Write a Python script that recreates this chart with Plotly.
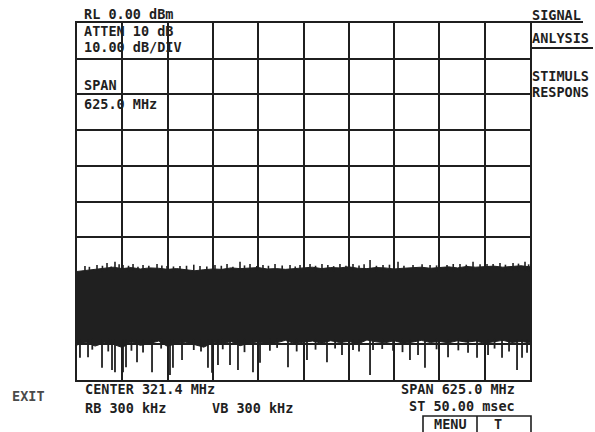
import plotly.graph_objects as go

# ---- analyzer settings -------------------------------------------------
center_mhz = 321.4
span_mhz = 625.0
f_start = center_mhz - span_mhz / 2
f_stop = center_mhz + span_mhz / 2
ref_level_dbm = 0.0
db_per_div = 10.0
n_div = 10

# ---- noise floor: solid body of the trace (MHz, dBm) -------------------
band_freq = [8.9, 21.4, 33.9, 46.4, 58.9, 71.4, 83.9, 96.4, 108.9, 121.4,
             133.9, 146.4, 158.9, 171.4, 183.9, 196.4, 208.9, 221.4, 233.9, 246.4,
             258.9, 271.4, 283.9, 296.4, 308.9, 321.4, 333.9, 346.4, 358.9, 371.4,
             383.9, 396.4, 408.9, 421.4, 433.9, 446.4, 458.9, 471.4, 483.9, 496.4,
             508.9, 521.4, 533.9, 546.4, 558.9, 571.4, 583.9, 596.4, 608.9, 621.4,
             633.9]
band_top = [-69.6, -69.3, -68.9, -68.7, -68.4, -68.8, -68.5, -68.9, -68.6, -68.7,
            -69.0, -68.8, -69.2, -69.4, -69.1, -68.9, -69.0, -68.6, -68.8, -68.7,
            -68.5, -68.9, -68.8, -69.0, -68.7, -68.6, -68.4, -68.8, -68.5, -68.6,
            -68.3, -68.7, -68.8, -68.5, -68.6, -68.9, -68.7, -68.6, -68.4, -68.7,
            -68.5, -68.3, -68.6, -68.2, -68.4, -68.3, -68.1, -68.4, -68.2, -68.0,
            -68.3]
band_bottom = [-90.2, -89.4, -90.5, -89.6, -90.0, -90.9, -89.3, -90.3, -89.8, -89.1,
               -90.6, -89.7, -89.4, -90.1, -90.8, -89.5, -89.9, -89.2, -90.4, -89.7,
               -89.3, -90.0, -89.6, -88.9, -89.8, -89.4, -89.1, -89.7, -89.0, -89.5,
               -89.2, -89.9, -88.8, -89.3, -89.6, -89.0, -89.7, -89.4, -88.9, -89.5,
               -89.2, -89.6, -89.0, -89.4, -89.1, -89.7, -89.3, -88.9, -89.5, -89.2,
               -89.6]

# ---- noise peaks above the floor (MHz, dBm) ----------------------------
peak_freq = [19.9, 26.0, 36.5, 44.0, 50.3, 56.0, 61.3, 67.0, 72.4, 80.0,
             86.2, 93.0, 100.0, 108.0, 119.3, 126.0, 133.1, 142.0, 151.0, 160.0,
             170.0, 178.6, 188.0, 199.3, 208.0, 215.9, 224.0, 233.8, 240.0, 247.6,
             257.0, 265.5, 273.0, 282.1, 292.0, 302.8, 310.0, 316.6, 330.4, 338.0,
             346.9, 355.0, 363.0, 371.7, 380.0, 389.7, 398.0, 405.0, 413.2, 422.0,
             431.1, 440.0, 451.8, 460.0, 472.5, 485.0, 496.0, 505.0, 519.4, 528.0,
             537.3, 546.0, 555.3, 565.0, 574.6, 583.0, 592.5, 600.0, 610.5, 618.0,
             627.0, 632.0]
peak_level = [-68.1, -68.3, -67.8, -68.0, -67.2, -68.2, -66.9, -67.6, -67.8, -68.0,
              -67.5, -68.3, -67.8, -68.0, -67.5, -67.9, -68.1, -68.2, -68.1, -68.0,
              -67.7, -68.1, -68.2, -67.8, -68.0, -67.5, -68.3, -66.9, -67.9, -67.5,
              -68.1, -67.8, -68.0, -67.5, -67.9, -67.8, -68.2, -67.8, -67.5, -68.0,
              -67.5, -67.8, -68.1, -67.5, -68.0, -67.5, -67.9, -67.6, -66.4, -68.0,
              -67.8, -67.7, -66.9, -68.0, -67.8, -67.6, -67.8, -67.9, -67.8, -67.5,
              -67.5, -67.7, -66.9, -67.6, -67.5, -67.5, -67.2, -67.7, -67.2, -67.4,
              -66.9, -67.6]

# ---- noise dips below the floor (MHz, dBm) -----------------------------
dip_freq = [13.0, 24.1, 30.0, 43.4, 52.0, 57.2, 61.3, 72.4, 76.5, 84.0,
            91.7, 100.0, 112.4, 125.0, 137.2, 141.3, 153.8, 170.0, 180.0, 189.6,
            195.2, 203.4, 210.0, 220.0, 231.0, 240.0, 251.7, 261.4, 275.0, 285.0,
            300.0, 312.0, 326.2, 338.0, 353.8, 365.0, 374.5, 389.7, 398.0, 413.2,
            417.3, 430.0, 445.0, 458.0, 468.3, 479.4, 489.0, 505.0, 520.8, 535.0,
            548.4, 560.8, 576.0, 585.0, 595.3, 605.0, 616.0, 622.9, 629.8]
dip_level = [-93.8, -93.6, -91.5, -96.6, -92.0, -97.2, -97.8, -97.8, -96.4, -91.8,
             -95.0, -92.3, -97.8, -91.2, -98.6, -96.6, -94.4, -91.6, -92.0, -96.6,
             -98.0, -95.8, -91.4, -95.8, -97.2, -92.2, -97.8, -95.2, -91.8, -91.0,
             -96.4, -92.0, -94.4, -91.5, -95.0, -91.2, -93.0, -91.6, -92.0, -98.6,
             -91.6, -91.3, -91.8, -92.2, -94.4, -93.0, -96.6, -91.4, -93.6, -91.7,
             -92.4, -93.8, -93.0, -91.2, -93.8, -92.0, -97.2, -93.8, -92.4]

TRACE = "#202020"
INK = "#1f1f1f"

# plot area in page pixels
L, R, T, B = 77, 530, 23, 380
W, H = 595, 432


def px(x):
    return (x - L) / (R - L)


def py(y):
    return (B - y) / (B - T)


def stems(freqs, levels, base):
    xs, ys = [], []
    for f, v in zip(freqs, levels):
        xs += [f, f, None]
        ys += [base, v, None]
    return xs, ys


fig = go.Figure()

# solid body of the noise floor
fig.add_trace(go.Scatter(x=band_freq, y=band_bottom, mode="lines",
                         line=dict(color=TRACE, width=1), hoverinfo="skip"))
fig.add_trace(go.Scatter(x=band_freq, y=band_top, mode="lines", fill="tonexty",
                         fillcolor=TRACE, line=dict(color=TRACE, width=1),
                         hoverinfo="skip"))

# peaks and dips of the sweep
ux, uy = stems(peak_freq, peak_level, -69.5)
fig.add_trace(go.Scatter(x=ux, y=uy, mode="lines",
                         line=dict(color=TRACE, width=1.6), hoverinfo="skip"))
dx, dy = stems(dip_freq, dip_level, -88.5)
fig.add_trace(go.Scatter(x=dx, y=dy, mode="lines",
                         line=dict(color=TRACE, width=1.8), hoverinfo="skip"))

axis_common = dict(showgrid=True, gridcolor=INK, gridwidth=1.7,
                   showticklabels=False, ticks="", zeroline=False,
                   showline=True, linecolor=INK, linewidth=2.2, mirror=True,
                   fixedrange=True)

fig.update_layout(
    width=W, height=H,
    margin=dict(l=L, r=W - R, t=T, b=H - B, pad=0),
    paper_bgcolor="white", plot_bgcolor="white",
    showlegend=False,
    xaxis=dict(range=[f_start, f_stop], tick0=f_start, dtick=span_mhz / n_div,
               **axis_common),
    yaxis=dict(range=[ref_level_dbm - n_div * db_per_div, ref_level_dbm],
               tick0=ref_level_dbm, dtick=db_per_div, **axis_common),
)

labels = [
    ("RL 0.00 dBm", 85, 14, "left"),
    ("ATTEN 10 dB", 85, 30.5, "left"),
    ("10.00 dB/DIV", 85, 46.5, "left"),
    ("SPAN", 85, 85, "left"),
    ("625.0 MHz", 85, 104, "left"),
    ("SIGNAL", 533, 15, "left"),
    ("ANLYSIS", 533, 38, "left"),
    ("STIMULS", 533, 76, "left"),
    ("RESPONS", 533, 92.5, "left"),
    ("CENTER 321.4 MHz", 86, 389, "left"),
    ("RB 300 kHz", 86, 407.5, "left"),
    ("VB 300 kHz", 213, 407.5, "left"),
    ("SPAN 625.0 MHz", 402, 389, "left"),
    ("ST 50.00 msec", 410, 406, "left"),
    ("MENU", 450, 424, "center"),
    ("T", 498, 424, "center"),
]
for text, x, y, anchor in labels:
    fig.add_annotation(text=f"<b>{text}</b>", xref="paper", yref="paper",
                       x=px(x - (2 if anchor == "left" else 0)), y=py(y),
                       xanchor=anchor, yanchor="middle", showarrow=False,
                       borderpad=0,
                       font=dict(family="DejaVu Sans Mono", size=13.5, color=INK))

fig.add_annotation(text="<b>EXIT</b>", xref="paper", yref="paper",
                   x=px(11), y=py(396), xanchor="left", yanchor="middle",
                   showarrow=False, borderpad=0,
                   font=dict(family="DejaVu Sans Mono", size=13.5, color="#4a4a4a"))

# softkey underlines and the menu key box
line_style = dict(color=INK, width=2)
fig.add_shape(type="line", xref="paper", yref="paper",
              x0=px(531), x1=px(583), y0=py(22), y1=py(22), line=line_style)
fig.add_shape(type="line", xref="paper", yref="paper",
              x0=px(531), x1=px(593), y0=py(48), y1=py(48), line=line_style)
fig.add_shape(type="rect", xref="paper", yref="paper",
              x0=px(423), x1=px(531), y0=py(416), y1=py(434),
              line=dict(color=INK, width=1.6))
fig.add_shape(type="line", xref="paper", yref="paper",
              x0=px(477), x1=px(477), y0=py(416), y1=py(434),
              line=dict(color=INK, width=1.6))

fig.write_html("out.html")
